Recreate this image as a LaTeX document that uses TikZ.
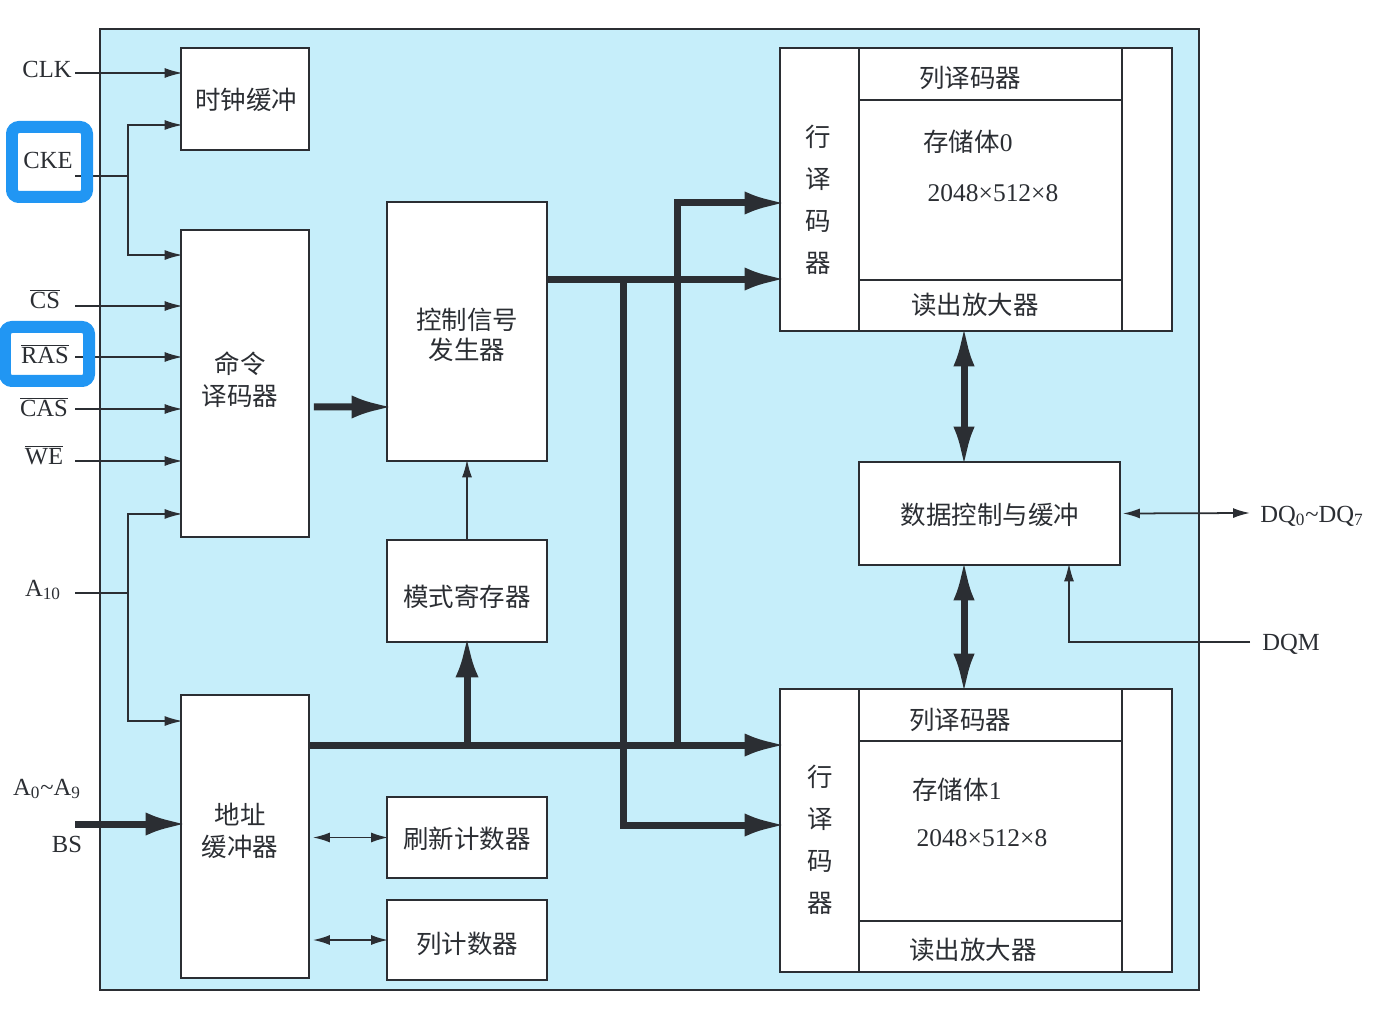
\documentclass[tikz,border=0pt]{standalone}
\usepackage{fontspec}
\setmainfont{Liberation Serif}
\newfontfamily\cjk{Noto Sans CJK SC}
\usepackage{tikz}
\usetikzlibrary{arrows.meta,positioning,fit}
\definecolor{chipbg}{HTML}{C6EEFA}
\definecolor{linec}{HTML}{2B2E33}
\definecolor{hlblue}{HTML}{2196F3}

\begin{document}
\begin{tikzpicture}[
    x=0.02cm, y=-0.02cm,
    font=\fontsize{14}{17}\selectfont,
    box/.style={draw=linec, line width=1pt, fill=white, inner sep=0pt},
    txt/.style={inner sep=0pt, text=linec, align=center, font=\cjk\fontsize{14.5}{18}\selectfont},
    num/.style={inner sep=0pt, text=linec, font=\fontsize{14.5}{17}\selectfont},
    lbl/.style={inner sep=0pt, anchor=base, text=linec},
    chip/.style={draw=linec, line width=1pt, fill=chipbg, inner sep=0pt},
    hl/.style={draw=hlblue, line width=0.24cm, rounded corners=4pt, inner sep=0pt},
    wire/.style={draw=linec, line width=1pt},
    sig/.style={draw=linec, line width=1pt, -{Latex[length=0.36cm,width=0.2cm]}, shorten >=-0.05cm},
    sigboth/.style={draw=linec, line width=1pt, {Latex[length=0.34cm,width=0.2cm]}-{Latex[length=0.34cm,width=0.2cm]}},
    bus/.style={draw=linec, line width=0.14cm, -{Latex[length=0.84cm,width=0.46cm]}, shorten >=-0.15cm},
    busboth/.style={draw=linec, line width=0.14cm, {Latex[length=0.84cm,width=0.42cm]}-{Latex[length=0.84cm,width=0.42cm]}, shorten >=-0.15cm, shorten <=-0.15cm}
]
    \useasboundingbox (0,0) rectangle (1386,1016);

    % Chip
    \node[chip, fit={(100,29) (1199,990)}] (chip) {};

    % Nodes
    \node[box, fit={(181,48) (309,150)}] (clkbuf) {};
    \node[box, fit={(181,230) (309,537)}] (cmddec) {};
    \node[box, fit={(387,202) (547,461)}] (ctrlgen) {};
    \node[box, fit={(387,540) (547,642)}] (modereg) {};
    \node[box, fit={(181,695) (309,978)}] (addrbuf) {};
    \node[box, fit={(387,797) (547,878)}] (refcnt) {};
    \node[box, fit={(387,900) (547,980)}] (colcnt) {};
    \node[box, fit={(859,462) (1120,565)}] (datactl) {};
    \node[txt] (clkbuflbl) at (246,100) {时钟缓冲};
    \node[txt, font=\cjk\fontsize{14.5}{18.1}\selectfont] (cmddeclbl) at (240,380) {命令\\译码器};
    \node[txt, font=\cjk\fontsize{14.5}{17}\selectfont] (ctrlgenlbl) at (467,335) {控制信号\\发生器};
    \node[txt] (modereglbl) at (467,597) {模式寄存器};
    \node[txt, font=\cjk\fontsize{14.5}{18.1}\selectfont] (addrbuflbl) at (240,831) {地址\\缓冲器};
    \node[txt] (refcntlbl) at (467,839) {刷新计数器};
    \node[txt] (colcntlbl) at (467,944) {列计数器};
    \node[txt] (datactllbl) at (990,515) {数据控制与缓冲};

    % Bank 0
    \node[box, fit={(780,48) (1172,331)}] (bank0) {};
    \node[box, fit={(780,48) (859,331)}] (rowdec0) {};
    \node[box, fit={(859,48) (1122,100)}] (coldec0) {};
    \node[box, fit={(859,100) (1122,280)}] (cell0) {};
    \node[box, fit={(859,280) (1122,331)}] (amp0) {};
    \node[txt, font=\cjk\fontsize{14.5}{23.9}\selectfont] (rowdec0lbl) at (818,200) {行\\译\\码\\器};
    \node[txt] (coldec0lbl) at (970,78) {列译码器};
    \node[txt] (bank0name) at (968,142) {存储体{\rmfamily 0}};
    \node[num] (bank0size) at (993,193) {2048×512×8};
    \node[txt] (amp0lbl) at (975,305) {读出放大器};

    % Bank 1
    \node[box, fit={(780,689) (1172,972)}] (bank1) {};
    \node[box, fit={(780,689) (859,972)}] (rowdec1) {};
    \node[box, fit={(859,689) (1122,741)}] (coldec1) {};
    \node[box, fit={(859,741) (1122,921)}] (cell1) {};
    \node[box, fit={(859,921) (1122,972)}] (amp1) {};
    \node[txt, font=\cjk\fontsize{14.5}{23.9}\selectfont] (rowdec1lbl) at (820,840) {行\\译\\码\\器};
    \node[txt] (coldec1lbl) at (960,720) {列译码器};
    \node[txt] (bank1name) at (957,790) {存储体{\rmfamily 1}};
    \node[num] (bank1size) at (982,838) {2048×512×8};
    \node[txt] (amp1lbl) at (973,950) {读出放大器};

    % Pin labels
    \node[lbl] (clklbl) at (47,78) {CLK};
    \node[lbl] (ckelbl) at (48,169) {CKE};
    \node[lbl] (cslbl) at (45,309) {$\overline{\mbox{CS}}$};
    \node[lbl] (raslbl) at (45,364) {$\overline{\mbox{RAS}}$};
    \node[lbl] (caslbl) at (44,417) {$\overline{\mbox{CAS}}$};
    \node[lbl] (welbl) at (44,465) {$\overline{\mbox{WE}}$};
    \node[lbl] (a10lbl) at (43,596) {A\textsubscript{10}};
    \node[lbl] (addrlbl) at (47,795) {A\textsubscript{0}\textasciitilde A\textsubscript{9}};
    \node[lbl] (bslbl) at (67,852) {BS};
    \node[lbl] (dqlbl) at (1312,522) {DQ\textsubscript{0}\textasciitilde DQ\textsubscript{7}};
    \node[lbl] (dqmlbl) at (1291,650) {DQM};

    % Input arrows
    \coordinate (clkin) at (75,73);
    \draw[sig] (clkin) -- (clkin -| clkbuf.west);
    \coordinate (ckein) at (75,176);
    \coordinate (ckesplit) at (128,176);
    \draw[wire] (ckein) -- (ckesplit);
    \draw[sig] (ckesplit) |- ([yshift=-0.52cm]clkbuf.west);
    \draw[sig] (ckesplit) |- ([yshift=2.57cm]cmddec.west);
    \foreach \pin/\yy in {cs/306, ras/357, cas/409, we/461} {
        \coordinate (\pin in) at (75,\yy);
        \draw[sig] (\pin in) -- (\pin in -| cmddec.west);
    }
    \coordinate (a10in) at (75,593);
    \coordinate (a10split) at (128,593);
    \draw[wire] (a10in) -- (a10split);
    \draw[sig] (a10split) |- ([yshift=-2.61cm]cmddec.west);
    \draw[sig] (a10split) |- ([yshift=2.31cm]addrbuf.west);
    \coordinate (addrin) at (75,824);
    \draw[bus] (addrin) -- (addrin -| addrbuf.west);

    % Internal arrows
    \draw[bus] ([xshift=0.08cm,yshift=-0.47cm]cmddec.east) -- ([yshift=-1.51cm]ctrlgen.west);
    \draw[sig] (modereg.north) -- (ctrlgen.south);
    \coordinate (ctrlout) at ([yshift=1.05cm]ctrlgen.east);
    \draw[bus] (ctrlout) -- (ctrlout -| bank0.west);
    \path (ctrlout) ++(1.52cm,0) coordinate (ctrltap);
    \draw[bus] (ctrltap) |- ([yshift=0.11cm]bank1.west);
    \coordinate (addrout) at ([yshift=1.83cm]addrbuf.east);
    \draw[bus] (addrout) -- (addrout -| bank1.west);
    \draw[bus] (addrout -| modereg.south) -- (modereg.south);
    \path (addrout) ++(7.36cm,0) coordinate (addrtap);
    \draw[bus] (addrtap) |- ([yshift=-0.27cm]bank0.west);
    \draw[sigboth, shorten >=0.06cm, shorten <=-0.04cm] (refcnt.west) -- (refcnt.west -| addrbuf.east);
    \draw[sigboth, shorten >=0.06cm, shorten <=-0.04cm] (colcnt.west) -- (colcnt.west -| addrbuf.east);

    % Data path
    \coordinate (dtop) at ([xshift=-0.51cm]datactl.north);
    \draw[busboth] (dtop) -- (dtop |- bank0.south);
    \coordinate (dbot) at ([xshift=-0.51cm]datactl.south);
    \draw[busboth] (dbot) -- (dbot |- bank1.north);
    \coordinate (dqout) at (1250,513);
    \draw[sigboth] ([xshift=0.04cm]datactl.east) -- (dqout);
    \coordinate (dqmin) at (1250,642);
    \draw[sig] (dqmin) -| ([xshift=1.59cm]datactl.south);

    % Highlights
    \node[hl, fit={(12,127) (87,197)}] (ckemark) {};
    \node[hl, fit={(5,327) (89,381)}] (rasmark) {};
\end{tikzpicture}
\end{document}
